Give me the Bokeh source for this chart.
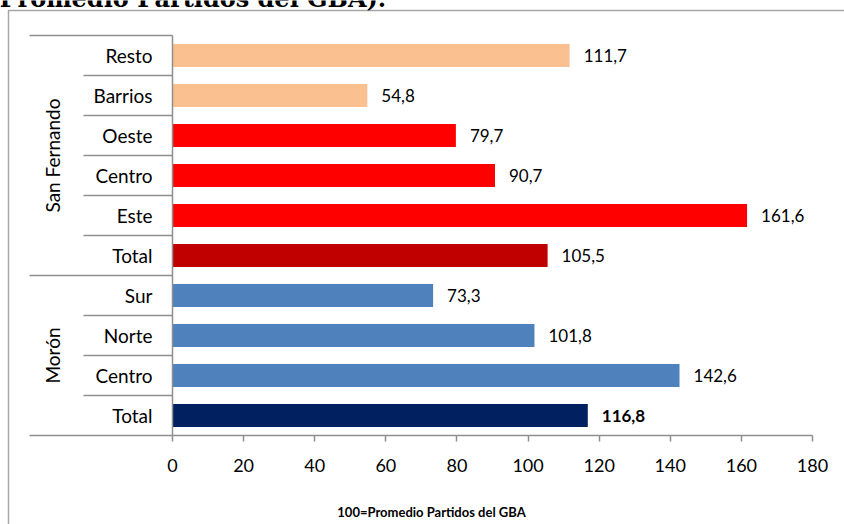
import math
from bokeh.plotting import figure
from bokeh.models import ColumnDataSource, Range1d, LinearAxis, FixedTicker, Label
from bokeh.core.properties import value
from bokeh.embed import file_html
from bokeh.resources import INLINE

# ---------------- data ----------------
groups = ["San Fernando", "Morón"]
group_sizes = [6, 4]
categories = ["Resto", "Barrios", "Oeste", "Centro", "Este", "Total",
              "Sur", "Norte", "Centro", "Total"]
values = [111.7, 54.8, 79.7, 90.7, 161.6, 105.5, 73.3, 101.8, 142.6, 116.8]
bar_colors = ["#FAC090", "#FAC090", "#FF0000", "#FF0000", "#FF0000", "#C00000",
              "#4F81BD", "#4F81BD", "#4F81BD", "#002060"]
label_styles = ["normal"] * 9 + ["bold"]
x_ticks = [0, 20, 40, 60, 80, 100, 120, 140, 160, 180]
x_title = "100=Promedio Partidos del GBA"
top_text = "Promedio Partidos del GBA)."

# ---------------- geometry (pixels) ----------------
W, H = 844, 524
X0_PX = 172          # pixel of value 0
X180_PX = 812        # pixel of value 180
PX_PER = (X180_PX - X0_PX) / (x_ticks[-1] - x_ticks[0])
ROW = 40
BOTTOM_PX = 435      # pixel of the category-axis bottom
n = len(categories)

def px_to_x(px):
    return (px - X0_PX) / PX_PER

def py_to_y(py):
    return (BOTTOM_PX - ROW / 2 - py) / ROW

FONT = "Lato"
GRID_COL = "#8f8f8f"

ys = [n - 1 - k for k in range(n)]
src = ColumnDataSource(dict(
    y=ys, value=values, color=bar_colors, cat=categories,
    lab=[f"{v:.1f}".replace(".", ",") for v in values],
    style=label_styles,
))

p = figure(width=W, height=H,
           x_range=Range1d(px_to_x(0), px_to_x(W)),
           y_range=Range1d(py_to_y(H), py_to_y(0)),
           x_axis_type=None, y_axis_type=None,
           toolbar_location=None, output_backend="svg",
           min_border=0, min_border_left=0, min_border_right=0,
           min_border_top=0, min_border_bottom=0,
           outline_line_color=None,
           background_fill_color="white", border_fill_color="white",
           styles={"position": "absolute", "left": "0px", "top": "0px"})

# bars
p.hbar(y="y", left=0, right="value", height=0.58, fill_color="color",
       line_color=None, source=src)

# value labels
p.text(x="value", y="y", text="lab", x_offset=14, text_baseline="middle",
       text_align="left", text_font=value(FONT), text_font_size="17px",
       text_font_style="style", text_color="#000000", source=src)

# category labels
p.text(x=0, y="y", text="cat", x_offset=-20, text_baseline="middle",
       text_align="right", text_font=value(FONT), text_font_size="19px",
       text_color="#000000", source=src)

# group labels and separators
boundaries = [n - 0.5]
centers = []
top = n - 0.5
for size in group_sizes:
    bottom = top - size
    centers.append((top + bottom) / 2)
    boundaries.append(bottom)
    top = bottom
gsrc = ColumnDataSource(dict(x=[0] * len(groups), y=centers, g=groups))
p.text(x="x", y="y", text="g", x_offset=-120, angle=math.pi / 2,
       text_align="center", text_baseline="middle", text_font=value(FONT),
       text_font_size="19px", text_color="#000000", source=gsrc)

inner_x0 = px_to_x(83)
group_x0 = px_to_x(29)
sx0, sy = [], []
for b in range(n + 1):
    yb = b - 0.5
    sx0.append(group_x0 if any(abs(yb - gb) < 1e-9 for gb in boundaries) else inner_x0)
    sy.append(yb)
p.segment(x0=sx0, y0=sy, x1=[0] * len(sy), y1=sy, line_color=GRID_COL,
          line_width=1.5)
p.segment(x0=[0], y0=[-0.5], x1=[0], y1=[n - 0.5], line_color=GRID_COL,
          line_width=1.5)

# outer chart border (left and top)
p.line(x=[px_to_x(8), px_to_x(8), px_to_x(W + 10)],
       y=[py_to_y(H + 10), py_to_y(10), py_to_y(10)],
       line_color="#a6a6a6", line_width=1.5)

# clipped tail of the title that sits above the chart
p.text(x=[px_to_x(-1)], y=[py_to_y(-2)], text=[top_text],
       text_align="left", text_baseline="alphabetic",
       text_font=value("DejaVu Serif"), text_font_style="bold",
       text_font_size="24px", text_color="#000000")

# value axis
xaxis = LinearAxis(ticker=FixedTicker(ticks=x_ticks), bounds=(x_ticks[0], x_ticks[-1]),
                   fixed_location=-0.5,
                   axis_line_color=GRID_COL, axis_line_width=1.5,
                   major_tick_line_color=GRID_COL, major_tick_line_width=1.5,
                   major_tick_in=0, major_tick_out=6,
                   minor_tick_line_color=None,
                   major_label_text_font=FONT, major_label_text_font_size="18px",
                   major_label_text_color="#000000",
                   major_label_standoff=17)
p.add_layout(xaxis, "below")

p.add_layout(Label(x=px_to_x(431), y=py_to_y(511), text=x_title,
                   text_align="center", text_baseline="middle",
                   text_font=FONT, text_font_style="bold",
                   text_font_size="13px", text_color="#000000"))

open("out.html", "w").write(file_html(p, INLINE))
